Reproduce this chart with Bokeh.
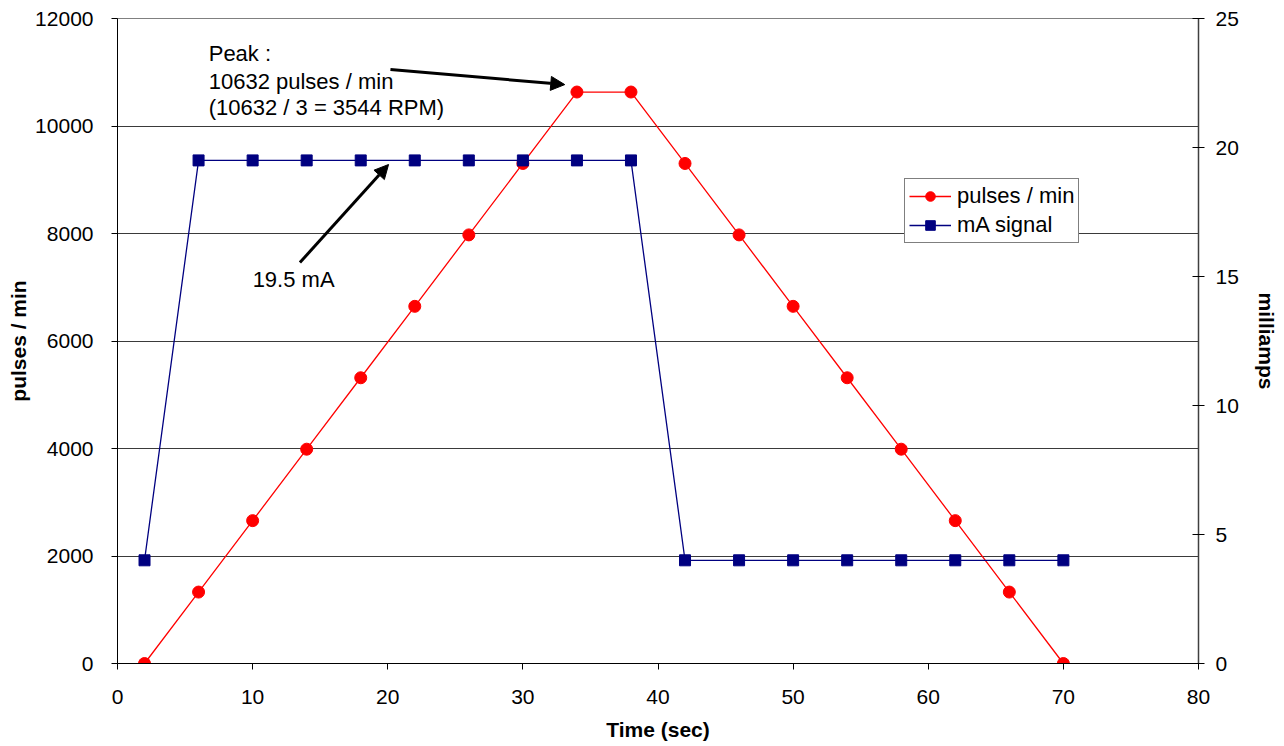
from bokeh.plotting import figure
from bokeh.models import Range1d, LinearAxis, Label, Arrow, NormalHead, FixedTicker, Legend, LegendItem
from bokeh.embed import file_html
from bokeh.resources import INLINE

time_sec = [2, 6, 10, 14, 18, 22, 26, 30, 34, 38, 42, 46, 50, 54, 58, 62, 66, 70]
pulses_per_min = [0, 1329, 2658, 3987, 5316, 6645, 7974, 9303, 10632, 10632,
                  9303, 7974, 6645, 5316, 3987, 2658, 1329, 0]
milliamps = [4, 19.5, 19.5, 19.5, 19.5, 19.5, 19.5, 19.5, 19.5, 19.5,
             4, 4, 4, 4, 4, 4, 4, 4]

x_ticks = [0, 10, 20, 30, 40, 50, 60, 70, 80]
y_ticks = [0, 2000, 4000, 6000, 8000, 10000, 12000]
mA_ticks = [0, 5, 10, 15, 20, 25]

peak_lines = ["Peak :", "10632 pulses / min", "(10632 / 3 = 3544 RPM)"]
peak_text_x = 6.75
peak_text_y = [11340, 10837, 10335]
peak_arrow = (20.2, 11051, 33.1, 10770)
ma_text = "19.5 mA"
ma_text_pos = (10.0, 7144)
ma_arrow = (13.5, 7460, 20.06, 9284)

FONT = "Liberation Sans"
FS = "21px"
AFS = "21px"

p = figure(frame_width=1081, frame_height=645, output_backend="svg", toolbar_location=None,
           x_range=Range1d(0, 80), y_range=Range1d(0, 12000),
           min_border_left=10, min_border_right=10, min_border_top=18, min_border_bottom=10)
p.margin = (0, 0, 0, 4)
p.extra_y_ranges = {"mA": Range1d(0, 25)}

p.outline_line_color = "#808080"
p.xgrid.visible = False
p.ygrid.ticker = FixedTicker(ticks=y_ticks)
p.ygrid.grid_line_color = "#3a3a3a"
p.ygrid.grid_line_width = 1

for ax in (p.xaxis[0], p.yaxis[0]):
    ax.axis_line_color = "black"
    ax.major_tick_line_color = "black"
    ax.minor_tick_line_color = None
    ax.major_tick_in = 0
    ax.major_tick_out = 6
    ax.major_label_text_font = FONT
    ax.major_label_text_font_size = FS
    ax.major_label_text_color = "black"
    ax.axis_label_text_font = FONT
    ax.axis_label_text_font_style = "bold"
    ax.axis_label_text_font_size = AFS
    ax.axis_label_text_color = "black"

p.xaxis.ticker = FixedTicker(ticks=x_ticks)
p.yaxis.ticker = FixedTicker(ticks=y_ticks)
p.xaxis.axis_label = "Time (sec)"
p.yaxis.axis_label = "pulses / min"
p.xaxis.major_label_standoff = 20
p.xaxis.axis_label_standoff = 11
p.yaxis.major_label_standoff = 18
p.yaxis.axis_label_standoff = 2

right = LinearAxis(y_range_name="mA", ticker=FixedTicker(ticks=mA_ticks), axis_label="milliamps")
right.axis_line_color = "#404040"
right.axis_line_width = 1.5
right.major_tick_line_color = "black"
right.minor_tick_line_color = None
right.major_tick_in = 6
right.major_tick_out = 6
right.major_label_text_font = FONT
right.major_label_text_font_size = FS
right.major_label_text_color = "black"
right.major_label_standoff = 11
right.axis_label_text_font = FONT
right.axis_label_text_font_style = "bold"
right.axis_label_text_font_size = AFS
right.axis_label_text_color = "black"
right.axis_label_standoff = 13
p.add_layout(right, "right")

r_line = p.line(time_sec, pulses_per_min, line_color="red", line_width=1.3)
r_pts = p.scatter(time_sec, pulses_per_min, marker="circle", size=12,
                  fill_color="red", line_color="red")
b_line = p.line(time_sec, milliamps, y_range_name="mA", line_color="#000080", line_width=1.3)
b_pts = p.scatter(time_sec, milliamps, y_range_name="mA", marker="square", size=11,
                  fill_color="#000080", line_color="#000080")

legend = Legend(items=[LegendItem(label="pulses / min", renderers=[r_line, r_pts]),
                       LegendItem(label="mA signal", renderers=[b_line, b_pts])],
                location=(787, 420))
legend.label_text_font = FONT
legend.label_text_font_size = "22px"
legend.label_text_color = "black"
legend.border_line_color = "black"
legend.border_line_width = 1
legend.background_fill_color = "white"
legend.background_fill_alpha = 1
legend.glyph_width = 42
legend.glyph_height = 24
legend.label_height = 24
legend.label_standoff = 6
legend.spacing = 3
legend.padding = 4
legend.margin = 0
p.add_layout(legend)

for txt, yy in zip(peak_lines, peak_text_y):
    p.add_layout(Label(x=peak_text_x, y=yy, text=txt, text_font=FONT, text_font_size="22px",
                       text_color="black", text_baseline="alphabetic"))
p.add_layout(Label(x=ma_text_pos[0], y=ma_text_pos[1], text=ma_text, text_font=FONT,
                   text_font_size="22px", text_color="black", text_baseline="alphabetic"))

for (x0, y0, x1, y1) in (peak_arrow, ma_arrow):
    p.add_layout(Arrow(x_start=x0, y_start=y0, x_end=x1, y_end=y1, line_color="black",
                       line_width=3,
                       end=NormalHead(size=14, fill_color="black", line_color="black")))

open("out.html", "w").write(file_html(p, INLINE))
